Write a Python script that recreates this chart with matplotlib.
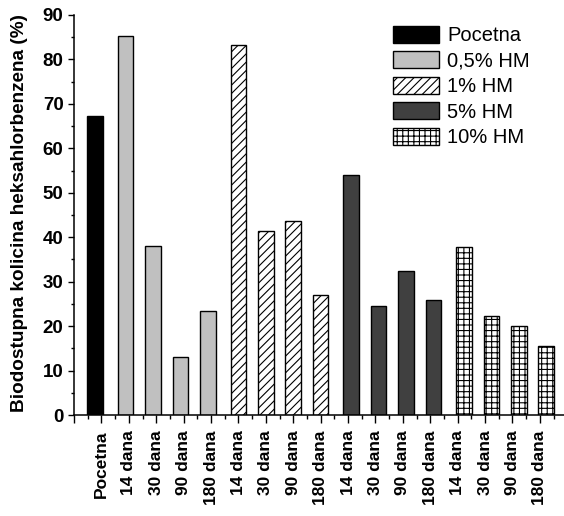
import matplotlib
matplotlib.use("Agg")
import matplotlib.pyplot as plt
from matplotlib.ticker import MultipleLocator, FixedLocator

# ---- data ----
tick_labels = ["Pocetna", "14 dana", "30 dana", "90 dana", "180 dana",
               "14 dana", "30 dana", "90 dana", "180 dana",
               "14 dana", "30 dana", "90 dana", "180 dana",
               "14 dana", "30 dana", "90 dana", "180 dana"]
series_names = ["Pocetna", "0,5% HM", "1% HM", "5% HM", "10% HM"]
pocetna = [67.2]
hm05 = [85.3, 38.1, 13.0, 23.4]
hm1 = [83.2, 41.4, 43.7, 27.1]
hm5 = [53.9, 24.5, 32.4, 25.8]
hm10 = [37.9, 22.2, 20.0, 15.6]
ylabel = "Biodostupna kolicina heksahlorbenzena (%)"

series_values = [pocetna, hm05, hm1, hm5, hm10]
faces = ["black", "#c0c0c0", "white", "#404040", "white"]
hatches = [None, None, "////", None, "+++"]

plt.rcParams['font.family'] = ['Liberation Sans', 'DejaVu Sans']
plt.rcParams['hatch.linewidth'] = 0.8

fig = plt.figure(figsize=(5.64, 5.16), dpi=100)
ax = fig.add_axes([74/564, 101/516, 490/564, 400/516])

bar_w = 0.57
offset = 0.117
pos = 1
handles = []
for s, vals in enumerate(series_values):
    xs = [pos + i + (s - 2) * offset for i in range(len(vals))]
    b = ax.bar(xs, vals, width=bar_w, color=faces[s], edgecolor="black",
               linewidth=1.0, hatch=hatches[s], label=series_names[s])
    handles.append(b)
    pos += len(vals)

ax.set_xlim(0, 17.88)
ax.set_ylim(0, 90)
ax.yaxis.set_major_locator(MultipleLocator(10))
ax.yaxis.set_minor_locator(MultipleLocator(5))
ax.xaxis.set_major_locator(FixedLocator(list(range(0, 18))))
ax.xaxis.set_minor_locator(FixedLocator([k + 0.5 for k in range(0, 18)]))
ax.set_xticklabels([""] + tick_labels, rotation=90, fontweight="bold", fontsize=12.5)
for t in ax.get_yticklabels():
    t.set_fontweight("bold")
    t.set_fontsize(13.5)

for sp in ["top", "right"]:
    ax.spines[sp].set_visible(False)
for sp in ["left", "bottom"]:
    ax.spines[sp].set_linewidth(1.1)

ax.tick_params(axis="x", which="major", direction="out", length=6, width=1.0, pad=5)
ax.tick_params(axis="x", which="minor", direction="out", length=3, width=1.0)
ax.tick_params(axis="y", which="major", direction="out", length=4.5, width=1.0, pad=3)
ax.tick_params(axis="y", which="minor", direction="out", length=2.5, width=1.0)

ax.set_ylabel(ylabel, fontweight="bold", fontsize=13.7)
ax.yaxis.set_label_coords(-0.093, 0.505)

leg = fig.legend(handles=handles, labels=series_names, loc="upper left",
                 bbox_to_anchor=(393/564, 1 - 26/516), frameon=False,
                 fontsize=14.5, handlelength=2.3, handleheight=0.92,
                 handletextpad=0.38, labelspacing=0.3, borderpad=0, borderaxespad=0)

fig.savefig("out.png", dpi=100)
